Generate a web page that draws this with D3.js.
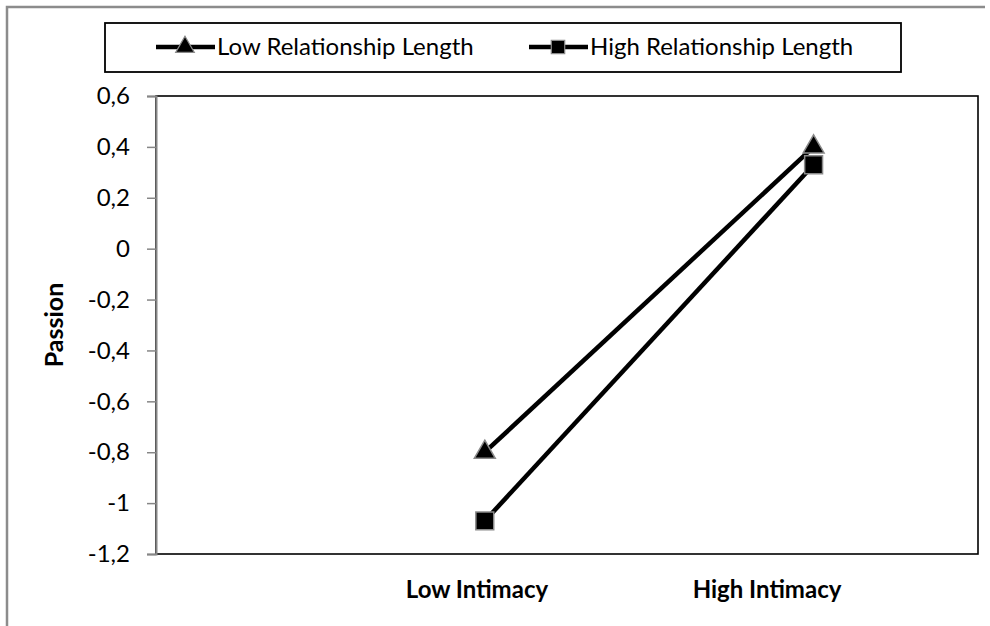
<!DOCTYPE html>
<html><head><meta charset="utf-8">
<script src="https://cdn.jsdelivr.net/npm/d3@7/dist/d3.min.js"></script>
<style>body{margin:0;background:#fff}svg{display:block}text{font-family:Lato,"Open Sans",sans-serif;fill:#000}</style>
</head><body>
<svg id="c" width="990" height="626"></svg>
<script>
const categories = ["Low Intimacy", "High Intimacy"];
const seriesNames = ["Low Relationship Length", "High Relationship Length"];
const lowLength = [-0.80, 0.40];
const highLength = [-1.07, 0.33];
const yTicks = [0.6, 0.4, 0.2, 0, -0.2, -0.4, -0.6, -0.8, -1, -1.2];
const yTitle = "Passion";

const svg = d3.select("#c");
const L = 156, R = 978, T = 96, B = 554;
const FS = 24;

// outer chart frame (left and top visible)
svg.append("path").attr("d", "M7,626V7H985").attr("fill", "none").attr("stroke", "#8c8c8c").attr("stroke-width", 2.5);

const y = d3.scaleLinear().domain([-1.2, 0.6]).range([B, T]);
// category index positions
const x = d3.scaleLinear().domain([0, 2.5]).range([L, R]);
const xLab = d3.scalePoint().domain(categories).range([477, 767]);

// plot border
svg.append("rect").attr("x", L).attr("y", T).attr("width", R - L).attr("height", B - T)
  .attr("fill", "none").attr("stroke", "#000").attr("stroke-width", 1.6);

// y axis
const ax = svg.append("g").attr("transform", `translate(${L},0)`)
  .call(d3.axisLeft(y).tickValues(yTicks).tickSize(9).tickPadding(17)
    .tickFormat(d => String(Math.round(d * 10) / 10).replace(".", ",")));
ax.select(".domain").attr("stroke", "#868686").attr("stroke-width", 2);
ax.selectAll(".tick line").attr("stroke", "#868686").attr("stroke-width", 1.5);
ax.selectAll(".tick text").attr("font-size", FS).attr("font-family", "Lato, sans-serif").attr("fill", "#000");

svg.append("text").attr("transform", `translate(63,${(T + B) / 2}) rotate(-90)`)
  .attr("text-anchor", "middle").attr("font-size", 25).attr("font-weight", "bold").text(yTitle);

// x category labels
svg.selectAll(".xl").data(categories).enter().append("text")
  .attr("x", d => xLab(d)).attr("y", 598).attr("text-anchor", "middle")
  .attr("font-size", FS).attr("font-weight", "bold").text(d => d);

const line = d3.line().x((d, i) => x(i + 1)).y(d => y(d));
const tri = d3.symbol().type(d3.symbolTriangle).size(190);
const sq = d3.symbol().type(d3.symbolSquare).size(320);

function drawSeries(vals, sym) {
  svg.append("path").attr("d", line(vals)).attr("fill", "none").attr("stroke", "#000").attr("stroke-width", 4.5);
  svg.selectAll(null).data(vals).enter().append("path")
    .attr("d", sym).attr("transform", (d, i) => `translate(${x(i + 1)},${y(d)})`)
    .attr("fill", "#000").attr("stroke", "#8a8a8a").attr("stroke-width", 1.5);
}
drawSeries(lowLength, tri);
drawSeries(highLength, sq);

// legend
const lg = svg.append("g");
lg.append("rect").attr("x", 105).attr("y", 23).attr("width", 796).attr("height", 49)
  .attr("fill", "#fff").attr("stroke", "#000").attr("stroke-width", 1.8);
const items = [{name: seriesNames[0], sym: d3.symbol().type(d3.symbolTriangle).size(150), x0: 156},
               {name: seriesNames[1], sym: d3.symbol().type(d3.symbolSquare).size(180), x0: 529}];
items.forEach(it => {
  lg.append("line").attr("x1", it.x0).attr("x2", it.x0 + 59).attr("y1", 47).attr("y2", 47)
    .attr("stroke", "#000").attr("stroke-width", 4.5);
  lg.append("path").attr("d", it.sym).attr("transform", `translate(${it.x0 + 29},47)`)
    .attr("fill", "#000").attr("stroke", "#8a8a8a").attr("stroke-width", 1.2);
  lg.append("text").attr("x", it.x0 + 61).attr("y", 55).attr("font-size", FS).text(it.name);
});
</script>
</body></html>
